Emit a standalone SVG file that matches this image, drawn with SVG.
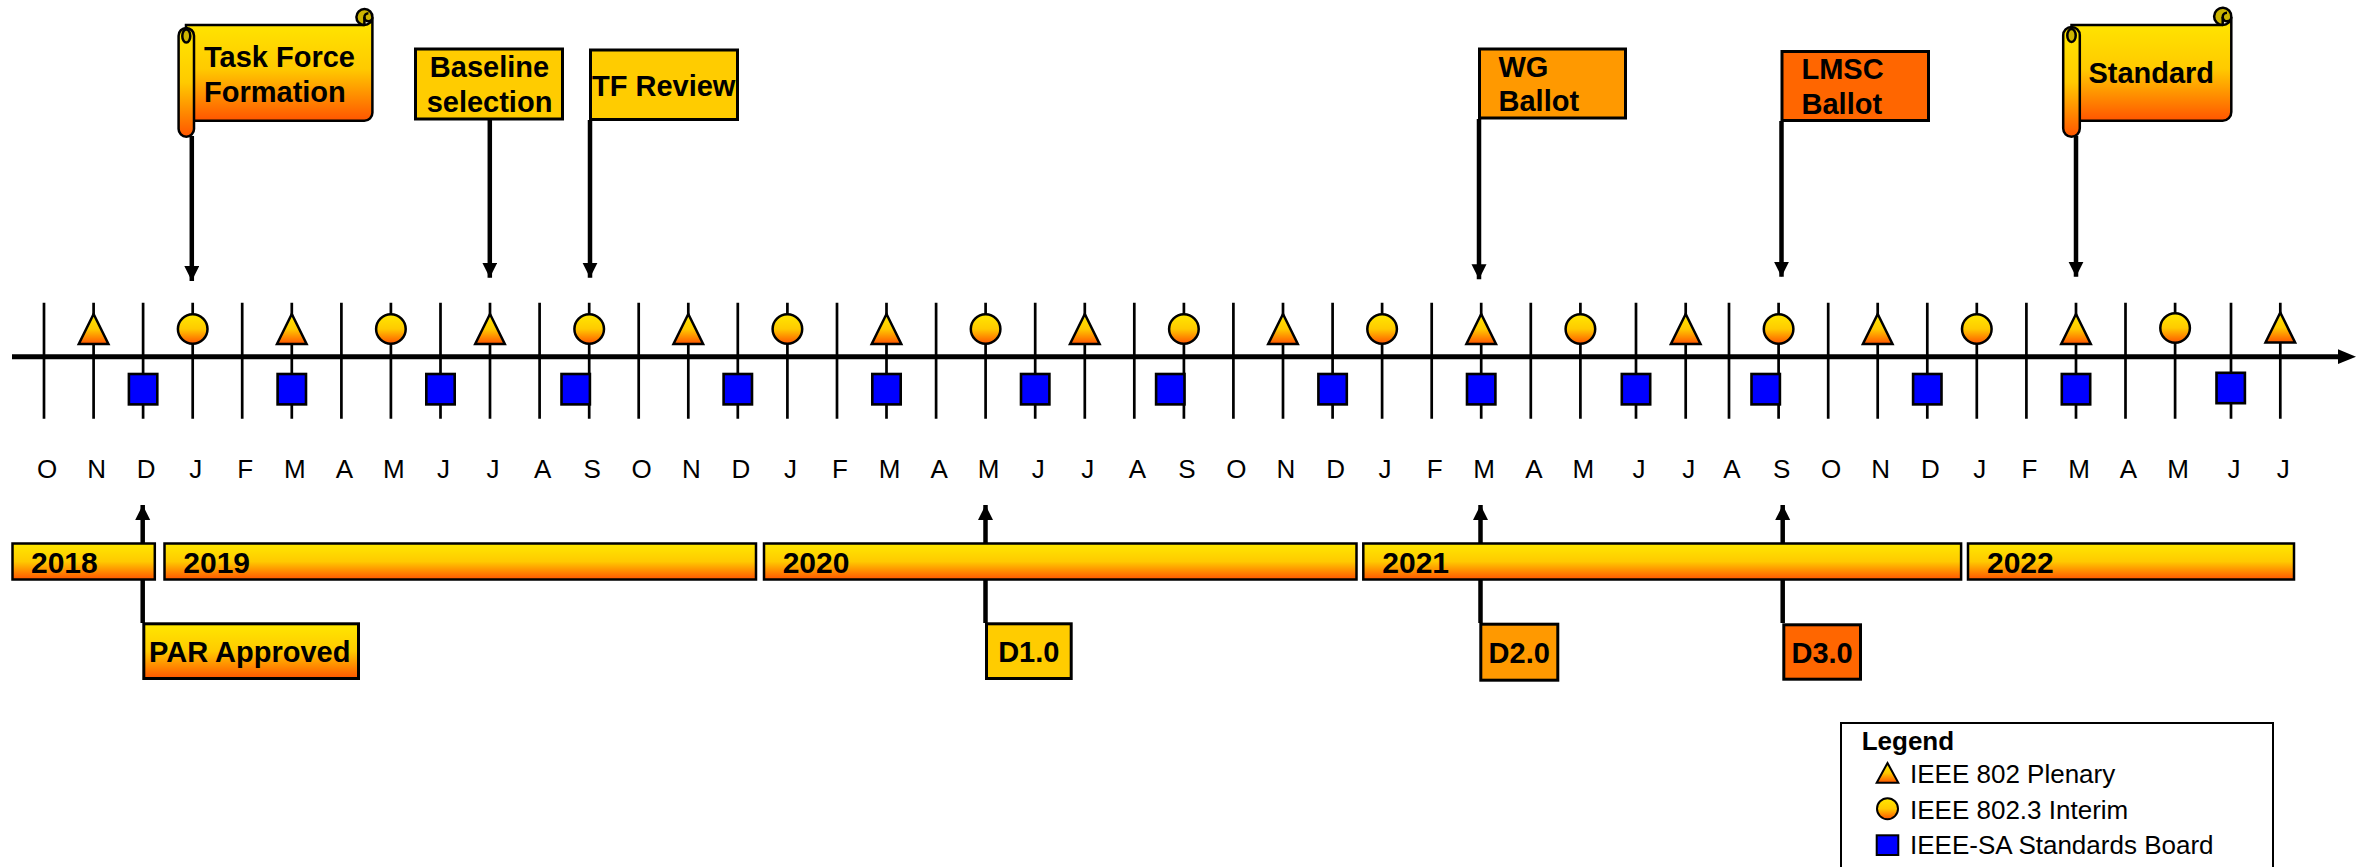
<svg xmlns="http://www.w3.org/2000/svg" xmlns:xlink="http://www.w3.org/1999/xlink" width="2366" height="867" viewBox="0 0 2366 867">
<style>
.lbl{font-family:"Liberation Sans",Arial,sans-serif;font-weight:bold;font-size:29px;fill:#000}
.yr{font-family:"Liberation Sans",Arial,sans-serif;font-weight:bold;font-size:30px;fill:#000}
.mon{font-family:"Liberation Sans",Arial,sans-serif;font-size:26px;fill:#000;text-anchor:middle}
.leg{font-family:"Liberation Sans",Arial,sans-serif;font-size:26px;fill:#000}
.box{stroke:#000;stroke-width:3}
.bar{fill:url(#gBar);stroke:#000;stroke-width:2.5}
.grad{fill:url(#gBar);stroke:#000;stroke-width:2.5}
.dark{fill:#CCB400;stroke:#000;stroke-width:2.5}
.blue{fill:#0000FF;stroke:#000;stroke-width:2.6}
.tick{stroke:#000;stroke-width:2.7;fill:none}
.conn{stroke:#000;stroke-width:4.5;fill:none}
</style>
<defs>
<linearGradient id="gBar" x1="0" y1="0" x2="0" y2="1">
<stop offset="0" stop-color="#FFE800"/>
<stop offset="0.5" stop-color="#FFCA00"/>
<stop offset="1" stop-color="#FF5500"/>
</linearGradient>
<marker id="ah" markerUnits="userSpaceOnUse" markerWidth="16" markerHeight="16" refX="15" refY="7.5" orient="auto" viewBox="0 0 16 16">
<path d="M0,0 L15,7.5 L0,15 Z" fill="#000"/>
</marker>
<polygon id="tri" points="0,-15 14.8,15 -14.8,15"/>
<circle id="cir" r="14.8"/>
<rect id="sq" x="-14.2" y="-15.2" width="28.4" height="30.4"/>
</defs>
<rect width="2366" height="867" fill="#fff"/>

<g id="ticks">
<path class="tick" d="M44 302.7V418.7M93.6 302.7V418.7M143.1 302.7V418.7M192.7 302.7V418.7M242.2 302.7V418.7M291.8 302.7V418.7M341.4 302.7V418.7M390.9 302.7V418.7M440.5 302.7V418.7M490 302.7V418.7M539.6 302.7V418.7M589.2 302.7V418.7M638.7 302.7V418.7M688.3 302.7V418.7M737.8 302.7V418.7M787.4 302.7V418.7M837 302.7V418.7M886.5 302.7V418.7M936.1 302.7V418.7M985.6 302.7V418.7M1035.2 302.7V418.7M1084.8 302.7V418.7M1134.3 302.7V418.7M1183.9 302.7V418.7M1233.4 302.7V418.7M1283 302.7V418.7M1332.6 302.7V418.7M1382.1 302.7V418.7M1431.7 302.7V418.7M1481.2 302.7V418.7M1530.8 302.7V418.7M1580.4 302.7V418.7M1636 302.7V418.7M1685.7 302.7V418.7M1729 302.7V418.7M1778.6 302.7V418.7M1828.2 302.7V418.7M1877.7 302.7V418.7M1927.3 302.7V418.7M1976.8 302.7V418.7M2026.4 302.7V418.7M2076 302.7V418.7M2125.5 302.7V418.7M2175.1 302.7V418.7M2231 302.7V418.7M2280.3 302.7V418.7"/>
</g>

<g id="axis">
<line x1="12" y1="356.7" x2="2340" y2="356.7" stroke="#000" stroke-width="5"/>
<polygon points="2338,349.3 2356,356.7 2338,364" fill="#000"/>
</g>

<g id="plenary">
<use xlink:href="#tri" class="grad" x="93.6" y="329"/>
<use xlink:href="#tri" class="grad" x="291.8" y="329"/>
<use xlink:href="#tri" class="grad" x="490" y="329"/>
<use xlink:href="#tri" class="grad" x="688.3" y="329"/>
<use xlink:href="#tri" class="grad" x="886.5" y="329"/>
<use xlink:href="#tri" class="grad" x="1084.8" y="329"/>
<use xlink:href="#tri" class="grad" x="1283" y="329"/>
<use xlink:href="#tri" class="grad" x="1481.2" y="329"/>
<use xlink:href="#tri" class="grad" x="1685.7" y="329"/>
<use xlink:href="#tri" class="grad" x="1877.7" y="329"/>
<use xlink:href="#tri" class="grad" x="2076" y="329"/>
<use xlink:href="#tri" class="grad" x="2280.3" y="327.5"/>
</g>

<g id="interim">
<use xlink:href="#cir" class="grad" x="192.7" y="329"/>
<use xlink:href="#cir" class="grad" x="390.9" y="329"/>
<use xlink:href="#cir" class="grad" x="589.2" y="329"/>
<use xlink:href="#cir" class="grad" x="787.4" y="329"/>
<use xlink:href="#cir" class="grad" x="985.6" y="329"/>
<use xlink:href="#cir" class="grad" x="1183.9" y="329"/>
<use xlink:href="#cir" class="grad" x="1382.1" y="329"/>
<use xlink:href="#cir" class="grad" x="1580.4" y="329"/>
<use xlink:href="#cir" class="grad" x="1778.6" y="329"/>
<use xlink:href="#cir" class="grad" x="1976.8" y="329"/>
<use xlink:href="#cir" class="grad" x="2175.1" y="328"/>
</g>

<g id="sasb">
<use xlink:href="#sq" class="blue" x="143.1" y="389.2"/>
<use xlink:href="#sq" class="blue" x="291.8" y="389.2"/>
<use xlink:href="#sq" class="blue" x="440.5" y="389.2"/>
<use xlink:href="#sq" class="blue" x="575.7" y="389.2"/>
<use xlink:href="#sq" class="blue" x="737.8" y="389.2"/>
<use xlink:href="#sq" class="blue" x="886.5" y="389.2"/>
<use xlink:href="#sq" class="blue" x="1035.2" y="389.2"/>
<use xlink:href="#sq" class="blue" x="1170.3" y="389.2"/>
<use xlink:href="#sq" class="blue" x="1332.6" y="389.2"/>
<use xlink:href="#sq" class="blue" x="1481.2" y="389.2"/>
<use xlink:href="#sq" class="blue" x="1636" y="389.2"/>
<use xlink:href="#sq" class="blue" x="1765.7" y="389.2"/>
<use xlink:href="#sq" class="blue" x="1927.3" y="389.2"/>
<use xlink:href="#sq" class="blue" x="2076" y="389.2"/>
<use xlink:href="#sq" class="blue" x="2230.7" y="388"/>
</g>

<g id="months">
<text class="mon" y="478.3"><tspan x="47">O</tspan><tspan x="96.6">N</tspan><tspan x="146.1">D</tspan><tspan x="195.7">J</tspan><tspan x="245.2">F</tspan><tspan x="294.8">M</tspan><tspan x="344.4">A</tspan><tspan x="393.9">M</tspan><tspan x="443.5">J</tspan><tspan x="493">J</tspan><tspan x="542.6">A</tspan><tspan x="592.2">S</tspan><tspan x="641.7">O</tspan><tspan x="691.3">N</tspan><tspan x="740.8">D</tspan><tspan x="790.4">J</tspan><tspan x="840">F</tspan><tspan x="889.5">M</tspan><tspan x="939.1">A</tspan><tspan x="988.6">M</tspan><tspan x="1038.2">J</tspan><tspan x="1087.8">J</tspan><tspan x="1137.3">A</tspan><tspan x="1186.9">S</tspan><tspan x="1236.4">O</tspan><tspan x="1286">N</tspan><tspan x="1335.6">D</tspan><tspan x="1385.1">J</tspan><tspan x="1434.7">F</tspan><tspan x="1484.2">M</tspan><tspan x="1533.8">A</tspan><tspan x="1583.4">M</tspan><tspan x="1639">J</tspan><tspan x="1688.7">J</tspan><tspan x="1732">A</tspan><tspan x="1781.6">S</tspan><tspan x="1831.2">O</tspan><tspan x="1880.7">N</tspan><tspan x="1930.3">D</tspan><tspan x="1979.8">J</tspan><tspan x="2029.4">F</tspan><tspan x="2079">M</tspan><tspan x="2128.5">A</tspan><tspan x="2178.1">M</tspan><tspan x="2234">J</tspan><tspan x="2283.3">J</tspan></text>
</g>

<g id="connectors">
<line class="conn" x1="191.8" y1="136" x2="191.8" y2="281" marker-end="url(#ah)"/>
<line class="conn" x1="489.8" y1="120" x2="489.8" y2="277.7" marker-end="url(#ah)"/>
<line class="conn" x1="590" y1="120" x2="590" y2="277.7" marker-end="url(#ah)"/>
<line class="conn" x1="1479" y1="119" x2="1479" y2="279.3" marker-end="url(#ah)"/>
<line class="conn" x1="1781.5" y1="121" x2="1781.5" y2="276.7" marker-end="url(#ah)"/>
<line class="conn" x1="2076" y1="136" x2="2076" y2="276.7" marker-end="url(#ah)"/>
<line class="conn" x1="142.7" y1="623" x2="142.7" y2="505" marker-end="url(#ah)"/>
<line class="conn" x1="985.5" y1="623" x2="985.5" y2="505" marker-end="url(#ah)"/>
<line class="conn" x1="1480.5" y1="623" x2="1480.5" y2="505" marker-end="url(#ah)"/>
<line class="conn" x1="1782.7" y1="623" x2="1782.7" y2="505" marker-end="url(#ah)"/>
</g>

<g id="years">
<rect class="bar" x="12.5" y="543.5" width="142.3" height="36"/>
<text class="yr" x="31" y="573.3">2018</text>
<rect class="bar" x="164.5" y="543.5" width="591.5" height="36"/>
<text class="yr" x="183.3" y="573.3">2019</text>
<rect class="bar" x="764" y="543.5" width="592.5" height="36"/>
<text class="yr" x="782.7" y="573.3">2020</text>
<rect class="bar" x="1363.3" y="543.5" width="597.8" height="36"/>
<text class="yr" x="1382.3" y="573.3">2021</text>
<rect class="bar" x="1968" y="543.5" width="326" height="36"/>
<text class="yr" x="1987" y="573.3">2022</text>
</g>

<g id="task-force-formation">
<path class="grad" d="M186,25 H364.4 A8,8 0 0 0 372.4,17.2 V112.7 A8,8 0 0 1 364.4,120.7 H186 Z"/>
<path class="dark" d="M364.4,25 A8,8 0 1 1 372.4,17.2 A4,4 0 0 1 364.4,17.2 A4,4 0 0 1 368.4,13.2"/>
<line x1="364.4" y1="17.2" x2="364.4" y2="25" stroke="#000" stroke-width="2.5"/>
<rect class="grad" x="178.6" y="28" width="15.4" height="108.7" rx="7.7" ry="7.7"/>
<ellipse class="dark" cx="186.3" cy="36" rx="4" ry="6.5"/>
<text class="lbl" x="204" y="66.7">Task Force</text>
<text class="lbl" x="204" y="101.7">Formation</text>
</g>

<g id="baseline-selection">
<rect class="box" x="415.5" y="49" width="147" height="70" fill="#FFCC00"/>
<text class="lbl" x="489.5" y="77.3" text-anchor="middle">Baseline</text>
<text class="lbl" x="489.5" y="111.7" text-anchor="middle">selection</text>
</g>

<g id="tf-review">
<rect class="box" x="590.5" y="50" width="147" height="69.5" fill="#FFCC00"/>
<text class="lbl" x="592" y="96">TF Review</text>
</g>

<g id="wg-ballot">
<rect class="box" x="1479.5" y="49" width="146" height="69" fill="#FF9900"/>
<text class="lbl" x="1498.5" y="77.3">WG</text>
<text class="lbl" x="1498.5" y="110.7">Ballot</text>
</g>

<g id="lmsc-ballot">
<rect class="box" x="1782" y="51.5" width="146.5" height="69" fill="#FF6600"/>
<text class="lbl" x="1801.5" y="79.3">LMSC</text>
<text class="lbl" x="1801.5" y="114.3">Ballot</text>
</g>

<g id="standard">
<path class="grad" d="M2071.5,25 H2222.7 A8.6,8.6 0 0 0 2231.3,17 V112 A8.6,8.6 0 0 1 2222.7,120.7 H2071.5 Z"/>
<path class="dark" d="M2222.7,25 A8.6,8.6 0 1 1 2231.3,17 A4.3,4.3 0 0 1 2222.7,17 A4.3,4.3 0 0 1 2227,12.7"/>
<line x1="2222.7" y1="17" x2="2222.7" y2="25" stroke="#000" stroke-width="2.5"/>
<rect class="grad" x="2063.2" y="27" width="16.6" height="109.7" rx="8.3" ry="8.3"/>
<ellipse class="dark" cx="2071.5" cy="35.5" rx="4.2" ry="6.5"/>
<text class="lbl" x="2088.4" y="83.3">Standard</text>
</g>

<g id="par-approved">
<rect class="box" x="143.8" y="623.8" width="214.7" height="54.7" fill="url(#gBar)"/>
<text class="lbl" x="149" y="662.3">PAR Approved</text>
</g>

<g id="d1">
<rect class="box" x="986.5" y="623.8" width="84.7" height="54.7" fill="#FFCC00"/>
<text class="lbl" x="1028.8" y="661.7" text-anchor="middle">D1.0</text>
</g>

<g id="d2">
<rect class="box" x="1480.8" y="624.2" width="77" height="56" fill="#FF9900"/>
<text class="lbl" x="1519.2" y="663" text-anchor="middle">D2.0</text>
</g>

<g id="d3">
<rect class="box" x="1783.8" y="624.8" width="76.7" height="54.4" fill="#FF6600"/>
<text class="lbl" x="1822.1" y="663" text-anchor="middle">D3.0</text>
</g>

<g id="legend">
<rect x="1841" y="723" width="432" height="160" fill="#fff" stroke="#000" stroke-width="2"/>
<text class="leg" x="1861.7" y="749.7" font-weight="bold">Legend</text>
<polygon points="1887.5,763 1898.3,782.7 1876.7,782.7" fill="url(#gBar)" stroke="#000" stroke-width="2"/>
<text class="leg" x="1910" y="783">IEEE 802 Plenary</text>
<circle cx="1887.5" cy="808.7" r="10.5" fill="url(#gBar)" stroke="#000" stroke-width="2"/>
<text class="leg" x="1910" y="818.7">IEEE 802.3 Interim</text>
<rect x="1876.7" y="835.3" width="21.6" height="19.7" fill="#0000FF" stroke="#000" stroke-width="2"/>
<text class="leg" x="1910" y="853.7">IEEE-SA Standards Board</text>
</g>
</svg>
